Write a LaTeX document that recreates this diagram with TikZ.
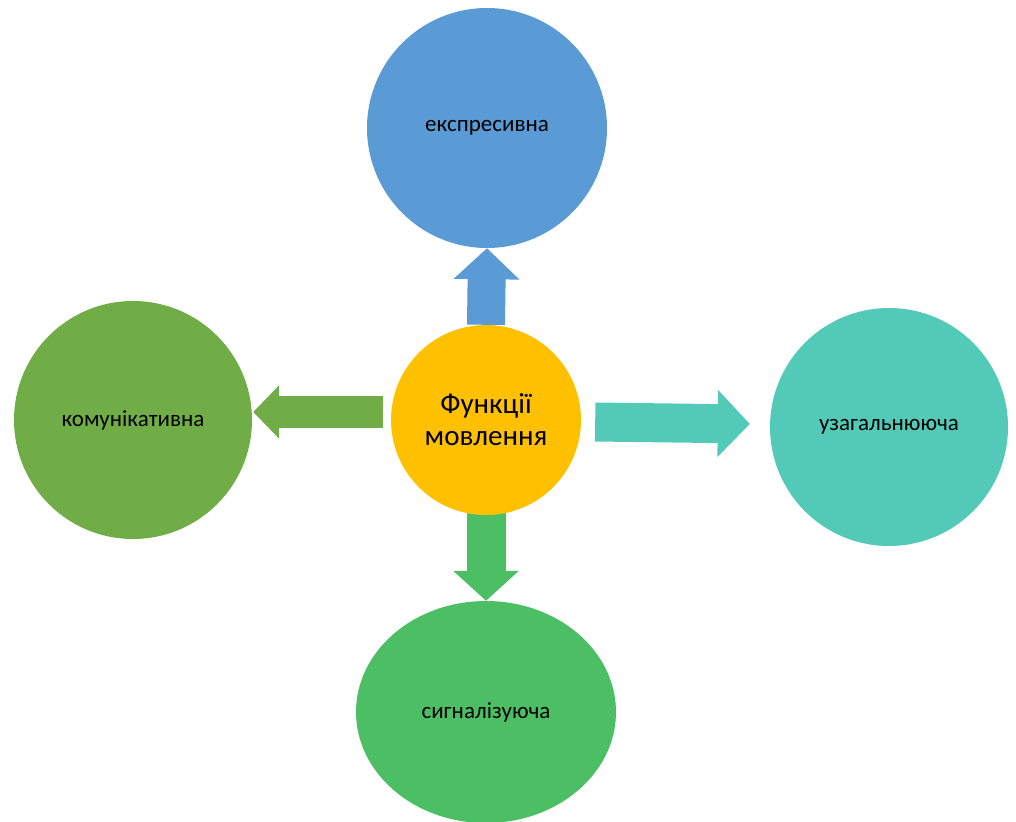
\documentclass[tikz,border=0pt]{standalone}
\usepackage{fontspec}
\setmainfont{Carlito}
\usetikzlibrary{arrows.meta,shapes.geometric,backgrounds}
\definecolor{blueF}{HTML}{5B9BD5}
\definecolor{yellowF}{HTML}{FFC000}
\definecolor{greenF}{HTML}{70AD47}
\definecolor{tealF}{HTML}{53C9B7}
\definecolor{lightgreenF}{HTML}{4CBF65}
\begin{document}
\begin{tikzpicture}[x=1pt,y=-1pt,
        func/.style={circle,inner sep=0pt,minimum size=#1,font=\fontsize{23}{27}\selectfont},
        blockarrow/.style={line width=#1}]
    \useasboundingbox (0,0) rectangle (1016,821);
    \node (M) at (486,420) [func=190pt,fill=yellowF,align=center,font=\fontsize{29}{32}\selectfont] {Функції\\мовлення};
    \node (E) at (487,128) [func=240pt,fill=blueF] {експресивна};
    \node (K) at (133,420) [func=238pt,fill=greenF] {комунікативна};
    \node (U) at (889,427) [func=238pt,fill=tealF] {узагальнююча};
    \node (S) at (486,712) [ellipse,inner sep=0pt,minimum width=260pt,minimum height=222pt,fill=lightgreenF,font=\fontsize{23}{27}\selectfont] {сигналізуюча};
    \begin{scope}[on background layer]
        \draw[blueF,blockarrow=38pt,-{Triangle[length=31pt,width=64pt]}] (M.north) -- (E.south);
        \draw[lightgreenF,blockarrow=39pt,-{Triangle[length=30pt,width=64pt]}] ([yshift=3pt]M.south) -- (S.north);
        \draw[greenF,blockarrow=32pt,-{Triangle[length=26pt,width=52pt]}] ([xshift=-8pt,yshift=8pt]M.west) -- ([xshift=1pt,yshift=8pt]K.east);
        \draw[tealF,blockarrow=39pt,-{Triangle[length=32pt,width=65pt]}] ([xshift=14pt,yshift=-2pt]M.east) -- ([xshift=-20pt,yshift=3pt]U.west);
    \end{scope}
\end{tikzpicture}
\end{document}
